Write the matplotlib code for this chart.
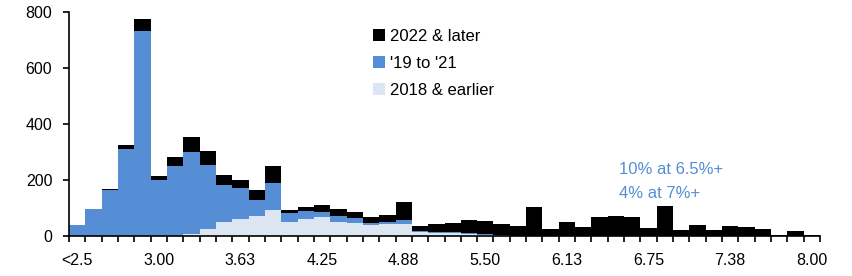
import numpy as np
import matplotlib
matplotlib.use("Agg")
import matplotlib.pyplot as plt

# -----------------------------
# Data (counts per 12.5bp rate bucket)
# -----------------------------
bucket_labels = ["<2.5", "3.00", "3.63", "4.25", "4.88", "5.50", "6.13", "6.75", "7.38", "8.00"]

vintage_2018_earlier = [0, 0, 0, 0, 0, 0, 0, 7, 24, 50,
                        61, 70, 94, 51, 60, 67, 51, 46, 38, 43,
                        43, 13, 10, 10, 7, 4, 1, 0, 0, 0,
                        0, 0, 0, 0, 0, 0, 0, 0, 0, 0,
                        0, 0, 0, 0, 0, 0]
vintage_19_21 = [39, 95, 165, 310, 731, 200, 250, 292, 231, 133,
                 109, 57, 94, 32, 28, 19, 22, 17, 8, 8,
                 14, 4, 5, 5, 3, 2, 1, 1, 1, 0,
                 0, 0, 0, 0, 0, 0, 0, 0, 0, 0,
                 0, 0, 0, 0, 0, 0]
vintage_2022_later = [1, 2, 3, 14, 43, 14, 31, 53, 47, 34,
                      30, 36, 63, 10, 14, 24, 23, 23, 21, 24,
                      63, 18, 27, 33, 47, 48, 41, 36, 104, 25,
                      49, 31, 67, 73, 67, 30, 108, 20, 39, 21,
                      37, 31, 26, 5, 17, 2]

light = np.array(vintage_2018_earlier)
mid = np.array(vintage_19_21)
top = np.array(vintage_2022_later)
x = np.arange(len(light))

plt.rcParams['font.family'] = ['Liberation Sans', 'DejaVu Sans']

fig = plt.figure(figsize=(8.52, 2.76), dpi=100)
ax = fig.add_axes([69 / 852, 40 / 276, 751 / 852, 224 / 276])

ax.bar(x, light, width=1.0, color="#DCE6F2", label="2018 & earlier", linewidth=0)
ax.bar(x, mid, width=1.0, bottom=light, color="#558ED5", label="'19 to '21", linewidth=0)
ax.bar(x, top, width=1.0, bottom=light + mid, color="#000000", label="2022 & later", linewidth=0)

ax.set_xlim(-0.5, len(x) - 0.5)
ax.set_ylim(0, 800)
ax.set_yticks([0, 200, 400, 600, 800])

# ticks at bucket edges, labels every 5th bucket
ax.set_xticks(np.arange(-0.5, len(x), 1.0))
ax.set_xticklabels([])
ax.set_xticks(np.arange(0, len(x), 5), minor=True)
ax.set_xticklabels(bucket_labels, minor=True)
ax.tick_params(axis="x", which="major", direction="out", length=4, width=1.2)
ax.tick_params(axis="x", which="minor", length=0, pad=12, labelsize=11.5)
ax.tick_params(axis="y", direction="out", length=4, width=1.2, pad=8, labelsize=11.5)

for s in ["top", "right"]:
    ax.spines[s].set_visible(False)
ax.spines["left"].set_linewidth(1.2)
ax.spines["bottom"].set_linewidth(1.2)

handles, labels = ax.get_legend_handles_labels()
ax.legend(handles[::-1], labels[::-1], loc="upper left",
          bbox_to_anchor=(373 / 852, 247 / 276), bbox_transform=fig.transFigure,
          frameon=False, fontsize=12, handlelength=0.7, handleheight=0.7,
          handletextpad=0.3, labelspacing=0.72, borderpad=0, borderaxespad=0)

ax.text(0.732, 0.299, "10% at 6.5%+", transform=ax.transAxes, color="#558ED5",
        fontsize=12, va="center", ha="left")
ax.text(0.732, 0.1875, "4% at 7%+", transform=ax.transAxes, color="#558ED5",
        fontsize=12, va="center", ha="left")

plt.savefig("out.png", dpi=100)
plt.close()
